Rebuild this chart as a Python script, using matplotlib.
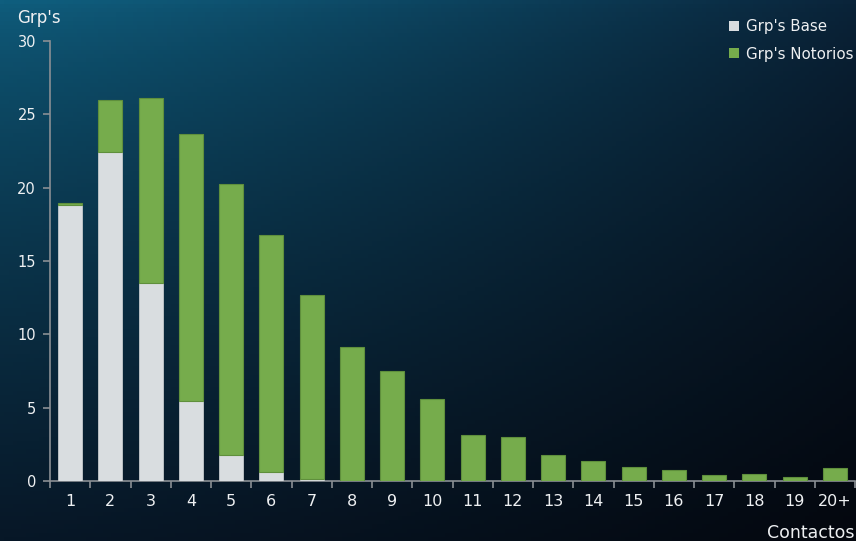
import numpy as np
import matplotlib
matplotlib.use("Agg")
import matplotlib.pyplot as plt
from matplotlib.patches import Patch

categories = ["1", "2", "3", "4", "5", "6", "7", "8", "9", "10",
              "11", "12", "13", "14", "15", "16", "17", "18", "19", "20+"]
grp_base = [18.8, 22.45, 13.5, 5.47, 1.77, 0.61, 0.14, 0, 0, 0,
            0, 0, 0, 0, 0, 0, 0, 0, 0, 0]
grp_notorios = [0.15, 3.55, 12.63, 18.18, 18.48, 16.19, 12.54, 9.13, 7.5, 5.59,
                3.11, 2.98, 1.8, 1.34, 0.98, 0.75, 0.39, 0.5, 0.27, 0.86]

plt.rcParams['font.family'] = ['DejaVu Sans']

W, H = 856, 541
fig = plt.figure(figsize=(W / 100, H / 100), dpi=100)

# background gradient
bg = fig.add_axes([0, 0, 1, 1], zorder=-10)
bg.set_axis_off()
xx, yy = np.meshgrid(np.linspace(0, 1, 200), np.linspace(0, 1, 130))
tl = np.array([0x0f, 0x5e, 0x7e]) / 255
tr = np.array([0x0a, 0x24, 0x3a]) / 255
bl = np.array([0x07, 0x17, 0x27]) / 255
br = np.array([0x04, 0x07, 0x0e]) / 255
u = xx[..., None] ** 1.2
v = yy[..., None] ** 0.7
img = (tl * (1 - u) * (1 - v) + tr * u * (1 - v) + bl * (1 - u) * v + br * u * v)
bg.imshow(img, aspect='auto', extent=[0, 1, 0, 1], origin='upper')
bg.set_xlim(0, 1)
bg.set_ylim(0, 1)

ax = fig.add_axes([50 / W, 60 / H, 805 / W, 440 / H])
ax.set_facecolor('none')
x = np.arange(len(categories))
base_col = '#d9dde0'
green = '#76ac4c'
ax.bar(x, grp_base, width=0.6, color=base_col, edgecolor='#c4c9cc', linewidth=0.6, zorder=3)
ax.bar(x, grp_notorios, width=0.6, bottom=grp_base, color=green, edgecolor='#5f8f3c',
       linewidth=0.8, zorder=3)

ax.set_xlim(-0.5, len(categories) - 0.5)
ax.set_ylim(0, 30)
ax.set_yticks([0, 5, 10, 15, 20, 25, 30])
ax.set_xticks(x)
ax.set_xticklabels(categories)
ax.set_xticks(np.arange(-0.5, len(categories), 1), minor=True)

txtcol = '#eef0f2'
for s in ['top', 'right']:
    ax.spines[s].set_visible(False)
for s in ['left', 'bottom']:
    ax.spines[s].set_color('#8a8f94')
    ax.spines[s].set_linewidth(1.2)
ax.tick_params(axis='y', colors='#8a8f94', labelcolor=txtcol, labelsize=10.5,
               length=5, width=1.2, direction='out', pad=5)
ax.tick_params(axis='x', which='major', length=0, labelcolor=txtcol, labelsize=11.5, pad=9)
ax.tick_params(axis='x', which='minor', length=5, width=1.2, color='#8a8f94', direction='out')

fig.text(17 / W, 1 - 18 / H, "Grp's", color=txtcol, fontsize=12, va='center', ha='left')
fig.text(855 / W, 1 - 533 / H, "Contactos", color=txtcol, fontsize=12.5, va='center', ha='right')

handles = [Patch(facecolor=base_col, edgecolor='none'), Patch(facecolor=green, edgecolor='none')]
leg = fig.legend(handles, ["Grp's Base", "Grp's Notorios"], loc='upper right',
                 bbox_to_anchor=(1.0, 1 - 16 / H), frameon=False, fontsize=10.8,
                 labelcolor=txtcol, handlelength=0.65, handleheight=0.65, handletextpad=0.45,
                 labelspacing=0.85, borderaxespad=0.0, borderpad=0.2)

fig.savefig('out.png', dpi=100)
